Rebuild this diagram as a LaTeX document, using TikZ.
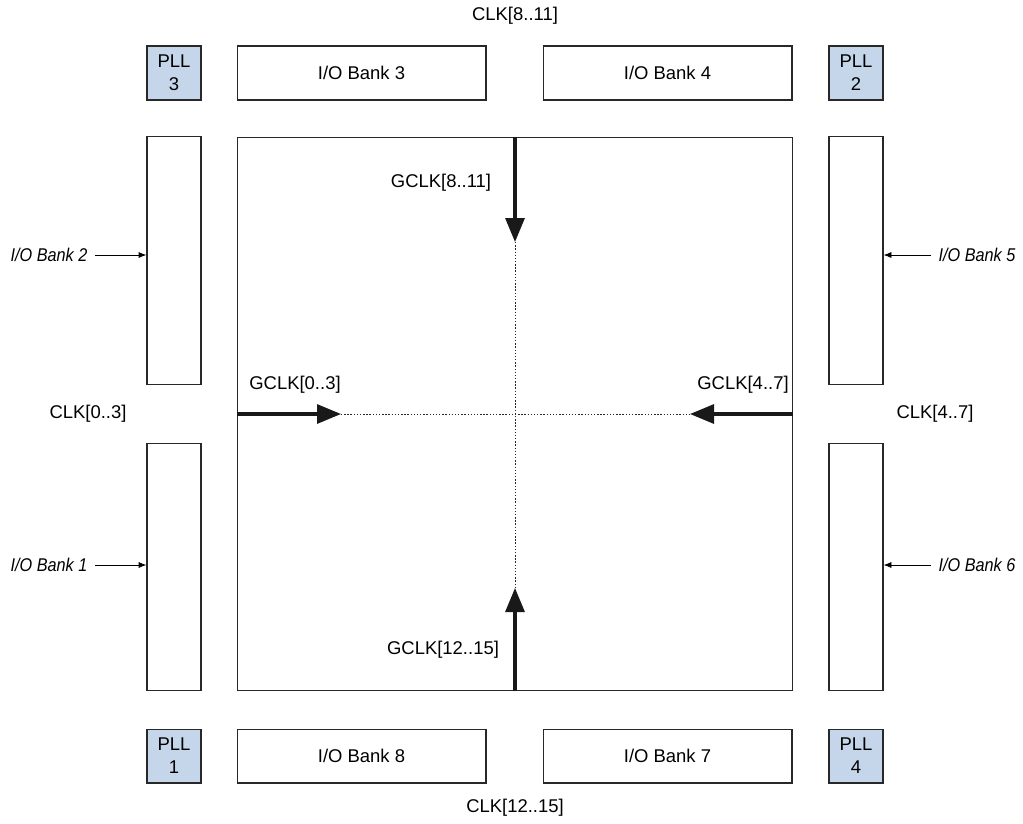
\documentclass[tikz,border=0pt]{standalone}
\usepackage{fontspec}
\setmainfont{Liberation Sans}
\usetikzlibrary{positioning, arrows.meta}

\definecolor{pllblue}{RGB}{197,214,234}
\definecolor{linegray}{RGB}{40,40,40}

\newcommand{\banklabel}[1]{\scalebox{0.88}[1]{\itshape #1}}

\begin{document}
\begin{tikzpicture}[x=0.02cm, y=-0.02cm, font=\fontsize{10.5}{12.5}\selectfont,
    bank/.style={draw=linegray, line width=0.6pt, minimum width=4.98cm, minimum height=1.08cm, inner sep=0pt},
    sidebank/.style={draw=linegray, line width=0.6pt, minimum width=1.08cm, minimum height=4.95cm, inner sep=0pt},
    pll/.style={draw=linegray, fill=pllblue, line width=0.6pt, minimum size=1.08cm, inner sep=0pt, align=center, font=\fontsize{10.5}{13}\selectfont},
    gclk/.style={-{Triangle[length=0.48cm, width=0.38cm]}, line width=1.8pt, draw=black!90},
    feed/.style={-{Latex[length=4.5pt, width=3.5pt]}, line width=0.5pt, shorten <=1pt},
    trace/.style={linegray, line width=0.5pt, dash pattern=on 0.8pt off 1pt}]
    \useasboundingbox (0,0) rectangle (1023,823);

    % core
    \node[draw=linegray, line width=0.6pt, minimum width=11.12cm, minimum height=11.08cm] (core) at (515,414) {};
    \coordinate (ctr) at (515,414);

    % top row
    \node[pll] (PLL3) at (174,73) {PLL\\3};
    \node[bank] (B3) at (361.5,73) {I/O Bank 3};
    \node[bank] (B4) at (667.5,73) {I/O Bank 4};
    \node[pll] (PLL2) at (856,73) {PLL\\2};

    % bottom row
    \node[pll] (PLL1) at (174,756) {PLL\\1};
    \node[bank] (B8) at (361.5,756) {I/O Bank 8};
    \node[bank] (B7) at (667.5,756) {I/O Bank 7};
    \node[pll] (PLL4) at (856,756) {PLL\\4};

    % side banks
    \node[sidebank] (B2) at (174,260.5) {};
    \node[sidebank] (B1) at (174,567) {};
    \node[sidebank] (B5) at (856,260.5) {};
    \node[sidebank] (B6) at (856,567) {};

    % clock pins
    \node (clkN) at (515,16) {CLK[8..11]};
    \node (clkS) at (515,808) {CLK[12..15]};
    \node (clkW) at (88,414) {CLK[0..3]};
    \node (clkE) at (935,414) {CLK[4..7]};

    % global clocks
    \coordinate (tipN) at (515,242);
    \coordinate (tipS) at (515,588);
    \coordinate (tipW) at (341,414);
    \coordinate (tipE) at (690,414);
    \draw[trace] (tipN) -- (tipS);
    \draw[trace] (tipW) -- (tipE);
    \draw[gclk] (core.north -| ctr) -- (tipN);
    \draw[gclk] (core.south -| ctr) -- (tipS);
    \draw[gclk] (core.west |- ctr) -- (tipW);
    \draw[gclk] (core.east |- ctr) -- (tipE);

    \node (g8) at (441,183) {GCLK[8..11]};
    \node (g0) at (295,385) {GCLK[0..3]};
    \node (g4) at (743,385) {GCLK[4..7]};
    \node (g12) at (443,650) {GCLK[12..15]};

    % bank labels
    \node (l2) at (49,255) {\banklabel{I/O Bank 2}};
    \node (l1) at (49,565) {\banklabel{I/O Bank 1}};
    \node (l5) at (977,255) {\banklabel{I/O Bank 5}};
    \node (l6) at (977,565) {\banklabel{I/O Bank 6}};
    \draw[feed] (l2) -- (l2 -| B2.west);
    \draw[feed] (l1) -- (l1 -| B1.west);
    \draw[feed] (l5) -- (l5 -| B5.east);
    \draw[feed] (l6) -- (l6 -| B6.east);
\end{tikzpicture}
\end{document}
